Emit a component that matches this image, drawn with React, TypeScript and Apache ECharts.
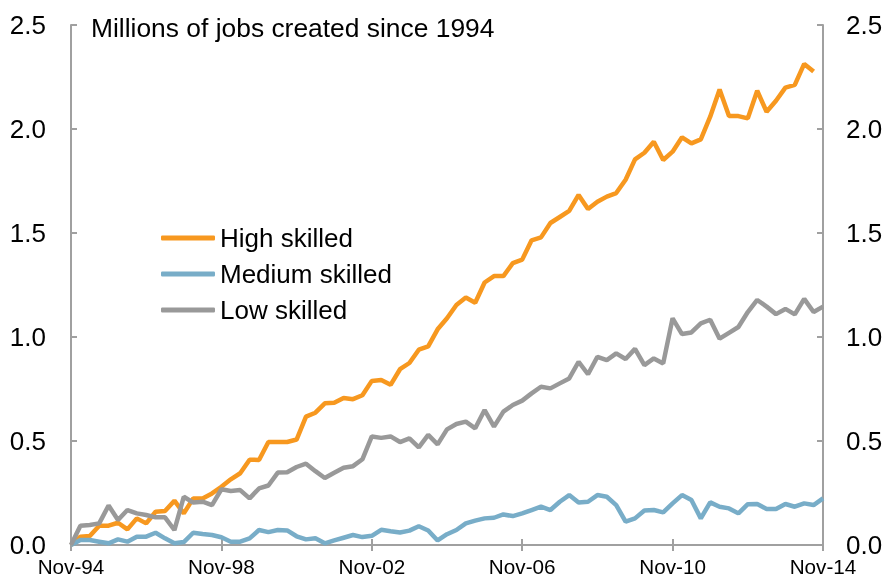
import React, { useEffect, useRef } from "react";
import * as echarts from "echarts";

const MONTHS = ["Nov", "Feb", "May", "Aug"];
const categories: string[] = [];
for (let i = 0; i <= 80; i++) {
  const yr = (94 + Math.floor((i + 3) / 4)) % 100;
  categories.push(MONTHS[i % 4] + "-" + String(yr).padStart(2, "0"));
}

const yTicks = [0, 0.5, 1.0, 1.5, 2.0, 2.5];

const highSkilled: (number | null)[] = [
  0, 0.04, 0.043, 0.093, 0.093, 0.107, 0.075, 0.128, 0.104, 0.16,
  0.163, 0.213, 0.152, 0.224, 0.224, 0.248, 0.28, 0.316, 0.345, 0.41,
  0.409, 0.495, 0.495, 0.495, 0.507, 0.617, 0.636, 0.681, 0.684, 0.707,
  0.701, 0.72, 0.789, 0.793, 0.77, 0.845, 0.875, 0.939, 0.955, 1.037,
  1.09, 1.154, 1.19, 1.165, 1.262, 1.293, 1.293, 1.355, 1.372, 1.465,
  1.479, 1.548, 1.577, 1.606, 1.683, 1.615, 1.65, 1.675, 1.692, 1.756,
  1.854, 1.886, 1.939, 1.851, 1.891, 1.96, 1.931, 1.95, 2.059, 2.19,
  2.062, 2.062, 2.051, 2.184, 2.083, 2.136, 2.199, 2.212, 2.313, 2.276,
  null,
];

const mediumSkilled: number[] = [
  0, 0.024, 0.024, 0.016, 0.008, 0.027, 0.016, 0.04, 0.04, 0.059,
  0.032, 0.008, 0.014, 0.059, 0.053, 0.048, 0.037, 0.016, 0.016, 0.032,
  0.072, 0.062, 0.072, 0.07, 0.042, 0.027, 0.032, 0.008, 0.022, 0.035,
  0.048, 0.038, 0.044, 0.073, 0.066, 0.06, 0.069, 0.09, 0.07, 0.022,
  0.052, 0.072, 0.104, 0.117, 0.128, 0.131, 0.147, 0.139, 0.152, 0.168,
  0.184, 0.168, 0.208, 0.24, 0.204, 0.208, 0.24, 0.232, 0.192, 0.112,
  0.128, 0.166, 0.168, 0.157, 0.2, 0.24, 0.216, 0.128, 0.205, 0.184,
  0.176, 0.152, 0.196, 0.197, 0.173, 0.173, 0.197, 0.184, 0.2, 0.192,
  0.224,
];

const lowSkilled: number[] = [
  0, 0.093, 0.096, 0.104, 0.19, 0.12, 0.168, 0.152, 0.144, 0.133,
  0.133, 0.072, 0.232, 0.204, 0.208, 0.192, 0.268, 0.26, 0.264, 0.224,
  0.272, 0.286, 0.348, 0.35, 0.375, 0.391, 0.355, 0.322, 0.347, 0.371,
  0.379, 0.412, 0.522, 0.515, 0.522, 0.495, 0.513, 0.469, 0.529, 0.484,
  0.556, 0.582, 0.593, 0.561, 0.649, 0.569, 0.641, 0.673, 0.694, 0.729,
  0.761, 0.753, 0.777, 0.801, 0.881, 0.821, 0.905, 0.889, 0.921, 0.894,
  0.943, 0.865, 0.897, 0.873, 1.09, 1.014, 1.022, 1.066, 1.083, 0.992,
  1.02, 1.048, 1.12, 1.178, 1.146, 1.11, 1.135, 1.109, 1.183, 1.12,
  1.146,
];

const FONT = "'Liberation Sans', Arial, sans-serif";
const AXIS_COLOR = "#A0A0A0";
const COLORS = { high: "#F7981F", medium: "#78ADC8", low: "#999999" };

export default function App() {
  const ref = useRef<HTMLDivElement>(null);
  useEffect(() => {
    if (!ref.current) return;
    const chart = echarts.init(ref.current, null, { renderer: "svg" });
    const yAxisBase = (pos: "left" | "right", margin: number) => ({
      type: "value" as const,
      position: pos,
      min: yTicks[0],
      max: yTicks[yTicks.length - 1],
      interval: 0.5,
      axisLine: { show: true, lineStyle: { color: AXIS_COLOR, width: 2 } },
      axisTick: { show: true, inside: true, length: 6, lineStyle: { color: AXIS_COLOR, width: 2 } },
      splitLine: { show: false },
      axisLabel: {
        margin,
        color: "#000",
        fontSize: 26,
        fontFamily: FONT,
        formatter: (v: number) => v.toFixed(1),
      },
    });
    chart.setOption({
      animation: false,
      grid: {
        left: 71,
        right: 62,
        top: 25,
        bottom: 33,
        containLabel: false,
        outerBoundsMode: "none",
      },
      xAxis: [
        {
          type: "category",
          data: categories,
          boundaryGap: false,
          position: "bottom",
          axisLine: { show: true, lineStyle: { color: AXIS_COLOR, width: 2 } },
          axisTick: { show: true, inside: true, length: 6, interval: 15, lineStyle: { color: AXIS_COLOR, width: 2 } },
          axisLabel: { interval: 15, margin: 11, color: "#000", fontSize: 20.7, fontFamily: FONT },
          splitLine: { show: false },
        },
        {
          type: "category",
          data: categories,
          boundaryGap: false,
          position: "bottom",
          axisLine: { show: false },
          axisTick: { show: true, inside: false, length: 6, interval: 15, lineStyle: { color: AXIS_COLOR, width: 2 } },
          axisLabel: { show: false },
          splitLine: { show: false },
        },
      ],
      yAxis: [yAxisBase("left", 25), yAxisBase("right", 23)],
      legend: {
        orient: "vertical",
        left: 161,
        top: 225,
        icon: "roundRect",
        itemWidth: 54,
        itemHeight: 5,
        itemGap: 10,
        padding: 0,
        textStyle: { fontSize: 26, fontFamily: FONT, color: "#000", padding: [0, 0, 0, 0] },
        data: ["High skilled", "Medium skilled", "Low skilled"],
      },
      graphic: [
        {
          type: "text",
          left: 91,
          top: 15,
          style: { text: "Millions of jobs created since 1994", fontSize: 26.4, fontFamily: FONT, fill: "#000" },
        },
      ],
      series: [
        {
          name: "High skilled",
          type: "line",
          data: highSkilled,
          symbol: "none",
          lineStyle: { color: COLORS.high, width: 4.5 },
          itemStyle: { color: COLORS.high },
        },
        {
          name: "Medium skilled",
          type: "line",
          data: mediumSkilled,
          symbol: "none",
          lineStyle: { color: COLORS.medium, width: 4.5 },
          itemStyle: { color: COLORS.medium },
        },
        {
          name: "Low skilled",
          type: "line",
          data: lowSkilled,
          symbol: "none",
          lineStyle: { color: COLORS.low, width: 4.5 },
          itemStyle: { color: COLORS.low },
        },
      ],
    });
    return () => chart.dispose();
  }, []);
  return (
    <div
      ref={ref}
      style={{ position: "fixed", left: 0, top: 0, width: 885, height: 578 }}
    />
  );
}
